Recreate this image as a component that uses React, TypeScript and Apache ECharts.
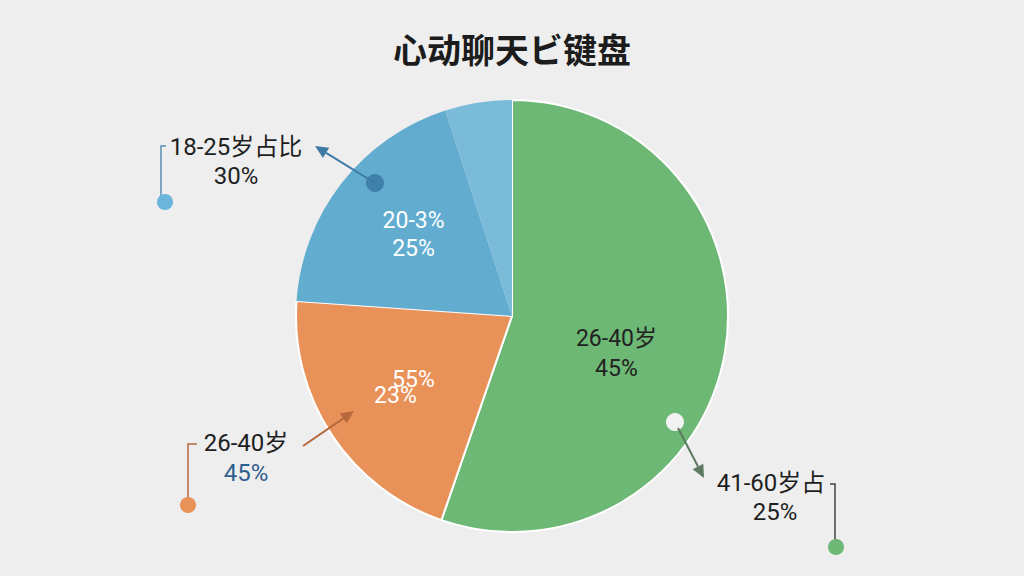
import React, { useEffect, useRef } from "react";
import * as echarts from "echarts";

const titleText = "心动聊天ビ键盘";
const sliceNames = ["41-60岁", "26-40岁", "20-30岁", "18-25岁"];
const sliceValues = [55.3, 20.8, 18.9, 5.0];
const sliceColors = ["#6cb874", "#e8925a", "#62acd0", "#7bbbda"];
const insideLabels = ["{d|26-40岁}\n{d|45%}", "{w|55%}\n{v|23%}", "{w|20-3%}\n{w|25%}", ""];
const labelShift: [number, number][] = [[-5, 19], [-6, 4], [-11, -13], [0, 0]];

const outerTopLeft = ["18-25岁占比", "30%"];
const outerBottomLeft = ["26-40岁", "45%"];
const outerRight = ["41-60岁占", "25%"];

const FONT = 'Roboto, "Noto Sans CJK SC", sans-serif';

function arrow(x1: number, y1: number, x2: number, y2: number, color: string) {
  const a = Math.atan2(y2 - y1, x2 - x1);
  const L = 13, W = 6;
  const bx = x2 - L * Math.cos(a), by = y2 - L * Math.sin(a);
  const px = -Math.sin(a) * W, py = Math.cos(a) * W;
  return [
    { type: "line", shape: { x1, y1, x2: bx, y2: by }, style: { stroke: color, lineWidth: 2 } },
    {
      type: "polygon",
      shape: { points: [[x2, y2], [bx + px, by + py], [bx - px, by - py]] },
      style: { fill: color },
    },
  ];
}

function txt(x: number, y: number, text: string, color: string, size = 24) {
  return {
    type: "text",
    x,
    y,
    style: {
      text,
      fill: color,
      font: `${size}px ${FONT}`,
      align: "center",
      verticalAlign: "middle",
    },
  };
}

export default function App() {
  const ref = useRef<HTMLDivElement>(null);
  useEffect(() => {
    document.body.style.margin = "0";
    const chart = echarts.init(ref.current!, undefined, { renderer: "svg" });
    const data = sliceNames.map((n, i) => ({
      name: n,
      value: sliceValues[i],
      itemStyle: {
        color: sliceColors[i],
        borderColor: "#ffffff",
        borderWidth: i < 2 ? 2 : 0,
      },
      label: { formatter: insideLabels[i] },
    }));
    const elements: any[] = [
      // top-left callout
      { type: "polyline", shape: { points: [[166, 146], [161, 146], [161, 198]] }, style: { stroke: "#5b8fb3", lineWidth: 1.5, fill: null } },
      { type: "circle", shape: { cx: 165, cy: 202, r: 8 }, style: { fill: "#6bb5dc" } },
      txt(236, 147, outerTopLeft[0], "#1e1e1e"),
      txt(236, 176, outerTopLeft[1], "#1e1e1e"),
      { type: "circle", shape: { cx: 375, cy: 183, r: 9 }, style: { fill: "#3f7fab" } },
      ...arrow(375, 183, 315, 146, "#3d7aa5"),
      // bottom-left callout
      { type: "polyline", shape: { points: [[197, 444], [188, 444], [188, 500]] }, style: { stroke: "#b5693d", lineWidth: 1.5, fill: null } },
      { type: "circle", shape: { cx: 188, cy: 505, r: 8 }, style: { fill: "#e8925a" } },
      txt(246, 443, outerBottomLeft[0], "#1e1e1e"),
      txt(246, 473, outerBottomLeft[1], "#2e5f8e"),
      ...arrow(303, 446, 354, 411, "#b5693d"),
      // right callout
      { type: "circle", shape: { cx: 675, cy: 422, r: 9 }, style: { fill: "#f2f2f2" } },
      ...arrow(678, 428, 704, 478, "#5c7a60"),
      txt(771, 483, outerRight[0], "#1e1e1e"),
      txt(775, 512, outerRight[1], "#1e1e1e"),
      { type: "polyline", shape: { points: [[830, 484], [835, 484], [835, 540]] }, style: { stroke: "#444444", lineWidth: 1.5, fill: null } },
      { type: "circle", shape: { cx: 836, cy: 547, r: 8 }, style: { fill: "#6cb874" } },
    ].map((e) => ({ ...e, z: 100 }));
    chart.setOption({
      animation: false,
      backgroundColor: "#eeeeee",
      title: {
        text: titleText,
        left: "center",
        top: 26,
        textStyle: {
          fontSize: 34,
          fontWeight: "bold",
          color: "#1c1c1c",
          fontFamily: '"Noto Sans CJK SC", sans-serif',
        },
      },
      series: [
        {
          type: "pie",
          center: [512, 316],
          radius: 216,
          startAngle: 90,
          clockwise: true,
          data,
          label: {
            show: true,
            position: "inside",
            rich: {
              d: { fontSize: 23, color: "#222222", lineHeight: 30, fontFamily: FONT },
              w: { fontSize: 23, color: "#ffffff", lineHeight: 28, fontFamily: FONT },
              v: { fontSize: 23, color: "#ffffff", lineHeight: 4, padding: [0, 36, 0, 0], fontFamily: FONT },
            },
          },
          labelLine: { show: false },
          labelLayout: (p: any) => ({ dx: labelShift[p.dataIndex][0], dy: labelShift[p.dataIndex][1] }),
          emphasis: { disabled: true },
        },
      ],
      graphic: elements,
    });
    return () => chart.dispose();
  }, []);
  return <div ref={ref} style={{ width: 1024, height: 576 }} />;
}
